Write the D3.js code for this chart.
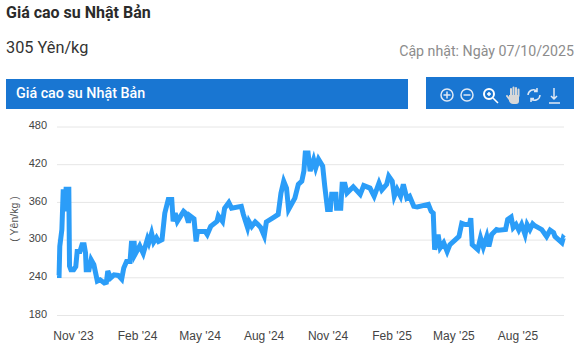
<!DOCTYPE html>
<html>
<head>
<meta charset="utf-8">
<script src="https://cdnjs.cloudflare.com/ajax/libs/d3/7.8.5/d3.min.js"></script>
<style>
html, body { margin: 0; padding: 0; background: #fff; }
svg { display: block; }
.title { font: 700 16px Roboto, sans-serif; fill: #2b2b2b; }
.price { font: 400 16.3px Roboto, sans-serif; fill: #333; }
.updated { font: 400 14.2px Roboto, sans-serif; fill: #8c8c8c; }
.bar-title { font: 500 14.3px Roboto, sans-serif; fill: #fff; }
.axis text { font: 12px "Liberation Sans", Arial, sans-serif; fill: #444; }
.axis-y text { font-size: 11px; }
.axis path, .axis line { stroke: none; }
.axis-y line { stroke: #e6e6e6; stroke-width: 1; }
.axis-title { font: 10.5px "Liberation Sans", Arial, sans-serif; fill: #555; }
</style>
</head>
<body>
<svg id="chart"></svg>
<script>
const WIDTH = 582;
const HEIGHT = 362;
const MARGIN = { top: 126.5, bottom: 47, left: 57, right: 18 };

const TITLE = 'Giá cao su Nhật Bản';
const PRICE = '305 Yên/kg';
const UPDATED = 'Cập nhật: Ngày 07/10/2025';
const UNIT = '( Yên/kg )';

const yTicks = [180, 240, 300, 360, 420, 480];
const xTicks = ['2023-11-01', '2024-02-01', '2024-05-01', '2024-08-01', '2024-11-01', '2025-02-01', '2025-05-01', '2025-08-01'];

// days since the first point
const days = [0, 3, 4, 7, 8, 9, 11, 13, 17, 18, 20, 24, 27, 29, 33, 36, 39, 41, 42, 46, 49, 53, 58, 62, 68, 71, 73, 77, 82, 88,
	93, 96, 100, 105, 107, 111, 112, 119, 124, 130, 132, 136, 139, 143, 146, 151, 155, 160, 165, 167, 170, 173, 182, 185, 189, 191, 197, 200, 202, 213,
	216, 221, 230, 232, 238, 241, 247, 251, 265, 268, 274, 276, 280, 285, 289, 293, 298, 301, 311, 318, 322, 326, 330, 333, 342, 347, 352, 355, 357, 361,
	364, 369, 372, 376, 382, 385, 389, 393, 395, 401, 402, 408, 410, 414, 417, 426, 436, 441, 450, 456, 463, 467, 474, 477, 482, 485, 489, 494, 498, 503,
	507, 513, 518, 534, 538, 541, 543, 548, 551, 556, 561, 565, 573, 578, 582, 587, 593, 595, 597, 605, 609, 613, 618, 621, 625, 632, 635, 645, 648, 653,
	656, 660, 664, 668, 673, 676, 680, 684, 687, 692, 697, 704, 709, 714, 716, 721, 726, 728, 729];
const prices = [243, 243, 289, 316, 348, 380, 345, 380, 380, 258, 252, 252, 257, 281, 281, 292, 292, 279, 252, 252, 268, 260, 234, 236, 231, 232, 250, 239, 244, 243,
	237, 255, 265, 265, 294, 294, 276, 290, 278, 301, 295, 310, 296, 303, 297, 300, 342, 364, 364, 329, 342, 329, 345, 342, 327, 338, 333, 297, 313, 313,
	308, 321, 329, 338, 329, 350, 359, 350, 353, 340, 319, 329, 321, 328, 324, 319, 306, 328, 335, 340, 374, 393, 382, 348, 366, 388, 393, 409, 438, 438,
	409, 427, 414, 428, 417, 385, 348, 348, 372, 372, 350, 350, 388, 388, 374, 384, 372, 386, 382, 369, 390, 379, 388, 401, 393, 369, 380, 369, 388, 366,
	369, 353, 352, 356, 345, 342, 284, 308, 287, 295, 281, 292, 300, 305, 326, 324, 324, 334, 292, 284, 303, 288, 305, 289, 308, 316, 315, 316, 332, 336,
	319, 324, 315, 324, 308, 324, 316, 325, 322, 319, 316, 305, 315, 311, 305, 300, 295, 303, 302];

const START = new Date(2023, 9, 9);
const data = days.map((d, i) => ({
	date: d3.timeDay.offset(START, d),
	price: prices[i]
}));
const width = WIDTH - MARGIN.left - MARGIN.right;
const height = HEIGHT - MARGIN.top - MARGIN.bottom;

const $svg = d3.select('#chart').attr('width', WIDTH).attr('height', HEIGHT);

// header
$svg.append('text').attr('class', 'title').attr('x', 6).attr('y', 18).text(TITLE);
$svg.append('text').attr('class', 'price').attr('x', 6).attr('y', 53).text(PRICE);
$svg.append('text').attr('class', 'updated').attr('x', 574).attr('y', 56).attr('text-anchor', 'end').text(UPDATED);

$svg.append('rect').attr('x', 6).attr('y', 79).attr('width', 402).attr('height', 30).attr('fill', '#1976d2');
$svg.append('text').attr('class', 'bar-title').attr('x', 16).attr('y', 98).text(TITLE);
$svg.append('rect').attr('x', 426).attr('y', 77).attr('width', 148).attr('height', 32).attr('fill', '#1976d2');

// toolbar icons
const $icons = $svg.append('g').attr('fill', 'none').attr('stroke', '#dfe9f5').attr('stroke-width', 1.5);
$icons.append('circle').attr('cx', 447).attr('cy', 95).attr('r', 6);
$icons.append('path').attr('d', 'M443.5 95h7M447 91.5v7');
$icons.append('circle').attr('cx', 467).attr('cy', 95).attr('r', 6);
$icons.append('path').attr('d', 'M463.5 95h7');
$icons.append('circle').attr('cx', 489).attr('cy', 94).attr('r', 5).attr('stroke', '#fff').attr('stroke-width', 2);
$icons.append('path').attr('stroke', '#fff').attr('d', 'M487 94h4M489 92v4M493 98l5 5');
$icons.append('path').attr('stroke', '#d8d8d8').attr('stroke-width', 2).attr('stroke-linecap', 'round')
	.attr('d', 'M510 100l-3-4M511 96v-7M513.5 96v-8.5M516 96v-8M518.5 96v-6.5');
$icons.append('path').attr('fill', '#d8d8d8').attr('stroke', 'none')
	.attr('d', 'M509 95h10v6c0 2-1 3-3 3h-3c-2 0-3-1-4-3z');
$icons.append('path').attr('d', 'M528 95a5.5 5.5 0 0 1 9-4M540 95a5.5 5.5 0 0 1-9 4M537 88v3.5h-3M531 102v-3.5h3');
$icons.append('path').attr('d', 'M554 88v11M551 96l3 3 3-3M549 103h11');

// scales
const scaleX = d3.scaleTime()
	.domain(d3.extent(data, d => d.date))
	.range([0, width]);
const scaleY = d3.scaleLinear()
	.domain([180, 480])
	.range([height, 0]);

const $gVis = $svg.append('g').attr('transform', `translate(${MARGIN.left}, ${MARGIN.top})`);

// axes
const axisY = d3.axisLeft(scaleY)
	.tickValues(yTicks)
	.tickSize(-width)
	.tickPadding(10);
$gVis.append('g').attr('class', 'axis axis-y').call(axisY)
	.selectAll('text').attr('dy', '0.2em');

const axisX = d3.axisBottom(scaleX)
	.tickValues(xTicks.map(d => d3.timeParse('%Y-%m-%d')(d)))
	.tickFormat(d3.timeFormat("%b '%y"))
	.tickSize(0)
	.tickPadding(16);
$gVis.append('g').attr('class', 'axis axis-x')
	.attr('transform', `translate(0, ${height})`)
	.call(axisX);

$svg.append('text').attr('class', 'axis-title')
	.attr('transform', 'translate(18, 219) rotate(-90)')
	.attr('text-anchor', 'middle')
	.text(UNIT);

// line
const line = d3.line()
	.x(d => scaleX(d.date))
	.y(d => scaleY(d.price));

$gVis.append('path')
	.datum(data)
	.attr('fill', 'none')
	.attr('stroke', '#2b9df8')
	.attr('stroke-width', 5)
	.attr('stroke-linejoin', 'miter')
	.attr('d', line);
</script>
</body>
</html>
